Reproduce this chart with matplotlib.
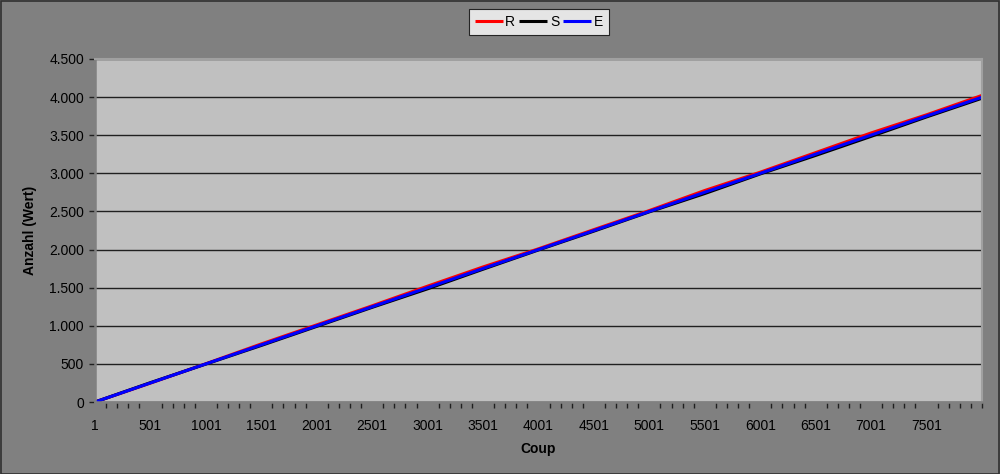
import matplotlib
matplotlib.use("Agg")
import matplotlib.pyplot as plt
from matplotlib.patches import Rectangle
from matplotlib.ticker import FuncFormatter, FixedLocator

plt.rcParams['font.family'] = ['Liberation Sans', 'DejaVu Sans']

coups = [1, 501, 1001, 1501, 2001, 2501, 3001, 3501, 4001, 4501, 5001,
         5501, 6001, 6501, 7001, 7501, 8000]
R = [0, 248, 502, 762, 1012, 1262, 1520, 1772, 2010, 2262, 2512,
     2775, 3015, 3272, 3530, 3768, 4022]
S = [0, 254, 498, 742, 992, 1242, 1485, 1742, 1995, 2242, 2495,
     2735, 2992, 3235, 3485, 3740, 3985]
E = [0, 250, 500, 750, 1000, 1250, 1500, 1752, 2000, 2250, 2500,
     2752, 3000, 3252, 3502, 3752, 3998]
series_names = ['R', 'S', 'E']
series_colors = ['#ff0000', '#000000', '#0000ff']
xlabels = ['1', '501', '1001', '1501', '2001', '2501', '3001', '3501',
           '4001', '4501', '5001', '5501', '6001', '6501', '7001', '7501']
yticks = [0, 500, 1000, 1500, 2000, 2500, 3000, 3500, 4000, 4500]

W, H = 1000, 474
fig = plt.figure(figsize=(W / 100, H / 100), dpi=100)
fig.patch.set_facecolor('#808080')
fig.patches.append(Rectangle((0.0005, 0.001), 0.998, 0.997, transform=fig.transFigure,
                             fill=False, edgecolor='#303030', linewidth=1.2))

left, right, top, bottom = 95, 982, 59, 402
ax = fig.add_axes([left / W, 1 - bottom / H, (right - left) / W, (bottom - top) / H])
ax.set_facecolor('#c0c0c0')

for vals, name, col in zip([R, S, E], series_names, series_colors):
    ax.plot(coups, vals, color=col, linewidth=2.2, label=name, solid_capstyle='butt')

ax.set_xlim(1, 8001)
ax.set_ylim(0, 4500)
ax.set_yticks(yticks)
ax.yaxis.set_major_formatter(FuncFormatter(lambda v, p: f"{int(v):,}".replace(',', '.')))
ax.grid(axis='y', color='#202020', linewidth=1.0)
ax.set_axisbelow(True)

ax.xaxis.set_major_locator(FixedLocator([int(l) for l in xlabels]))
ax.set_xticklabels(xlabels)
ax.xaxis.set_minor_locator(FixedLocator(list(range(1, 8002, 100))))

ax.tick_params(axis='both', which='both', direction='out', color='#202020',
               labelsize=10, labelcolor='#000000')
ax.tick_params(axis='x', which='major', length=0, pad=12)
ax.tick_params(axis='x', which='minor', length=4, width=1)
ax.tick_params(axis='y', which='major', length=4, width=1, pad=4)

for s in ['left', 'bottom']:
    ax.spines[s].set_color('#808080')
    ax.spines[s].set_linewidth(1.8)
for s in ['right', 'top']:
    ax.spines[s].set_color('#a0a0a0')
    ax.spines[s].set_linewidth(1.5)

ax.set_xlabel('Coup', fontsize=10, fontweight='bold', labelpad=7)
ax.set_ylabel('Anzahl (Wert)', fontsize=10, fontweight='bold', labelpad=9)

leg = fig.legend(loc='center', bbox_to_anchor=(539 / W, 1 - 22 / H), ncol=3,
                 frameon=True, fontsize=10, handlelength=2.0, handletextpad=0.2,
                 columnspacing=0.3, borderpad=0.4, fancybox=False)
leg.get_frame().set_facecolor('white')
leg.get_frame().set_edgecolor('#000000')
leg.get_frame().set_linewidth(0.8)

fig.savefig('out.png', dpi=100, facecolor=fig.get_facecolor())
